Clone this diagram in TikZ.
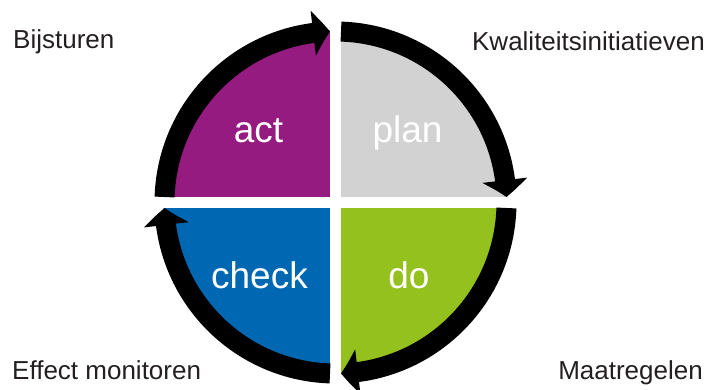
\documentclass[tikz,border=0pt]{standalone}
\usepackage{fontspec}
\setmainfont{Liberation Sans}
\usetikzlibrary{arrows.meta,bending,calc}
\definecolor{actc}{HTML}{951B80}
\definecolor{planc}{HTML}{D2D2D2}
\definecolor{doc}{HTML}{95C11F}
\definecolor{checkc}{HTML}{0068B2}
\definecolor{txt}{HTML}{231F20}
\tikzset{
  side/.style={text=txt,font=\fontsize{26}{30}\selectfont,inner sep=0pt},
  phase/.style={text=white,font=\fontsize{37}{42}\selectfont,inner sep=0pt,anchor=base},
  ring/.style={line width=20pt,line cap=butt,-{Triangle[width=44pt,length=17pt,bend]}}
}
\begin{document}
\begin{tikzpicture}[x=1pt,y=1pt]
\useasboundingbox (0,0) rectangle (709,-389);
\coordinate (c) at (335.5,-202.5);
% quadrants
\fill[actc] (c) -- ++(180:172) arc[start angle=180,end angle=90,radius=172] -- cycle;
\fill[planc] (c) -- ++(90:172) arc[start angle=90,end angle=0,radius=172] -- cycle;
\fill[doc] (c) -- ++(0:172) arc[start angle=0,end angle=-90,radius=172] -- cycle;
\fill[checkc] (c) -- ++(-90:172) arc[start angle=-90,end angle=-180,radius=172] -- cycle;
% white gaps
\fill[white] ($(c)+(-5.5,-190)$) rectangle ($(c)+(5.5,190)$);
\fill[white] ($(c)+(-190,-5.5)$) rectangle ($(c)+(190,5.5)$);
% arc end points
\coordinate (a1) at ($(c)+(178.16:171)$);
\coordinate (p1) at ($(c)+(88.16:171)$);
\coordinate (d1) at ($(c)+(-1.84:171)$);
\coordinate (k1) at ($(c)+(-91.84:171)$);
% arrows
\draw[ring] (a1) arc[start angle=178.16,end angle=91.84,radius=171];
\draw[ring] (p1) arc[start angle=88.16,end angle=1.84,radius=171];
\draw[ring] (d1) arc[start angle=-1.84,end angle=-88.16,radius=171];
\draw[ring] (k1) arc[start angle=-91.84,end angle=-178.16,radius=171];
% phase labels
\node[phase] (act) at (258.5,-142) {act};
\node[phase] (plan) at (407.5,-142) {plan};
\node[phase] (check) at (259.5,-288) {check};
\node[phase] (do) at (409,-288) {do};
% side labels
\node[side,anchor=base west] (bij) at (13,-48) {Bijsturen};
\node[side,anchor=base east] (kwa) at (705,-50) {Kwaliteitsinitiatieven};
\node[side,anchor=base west] (eff) at (12,-379) {Effect monitoren};
\node[side,anchor=base east] (maa) at (703,-379) {Maatregelen};
\end{tikzpicture}
\end{document}
